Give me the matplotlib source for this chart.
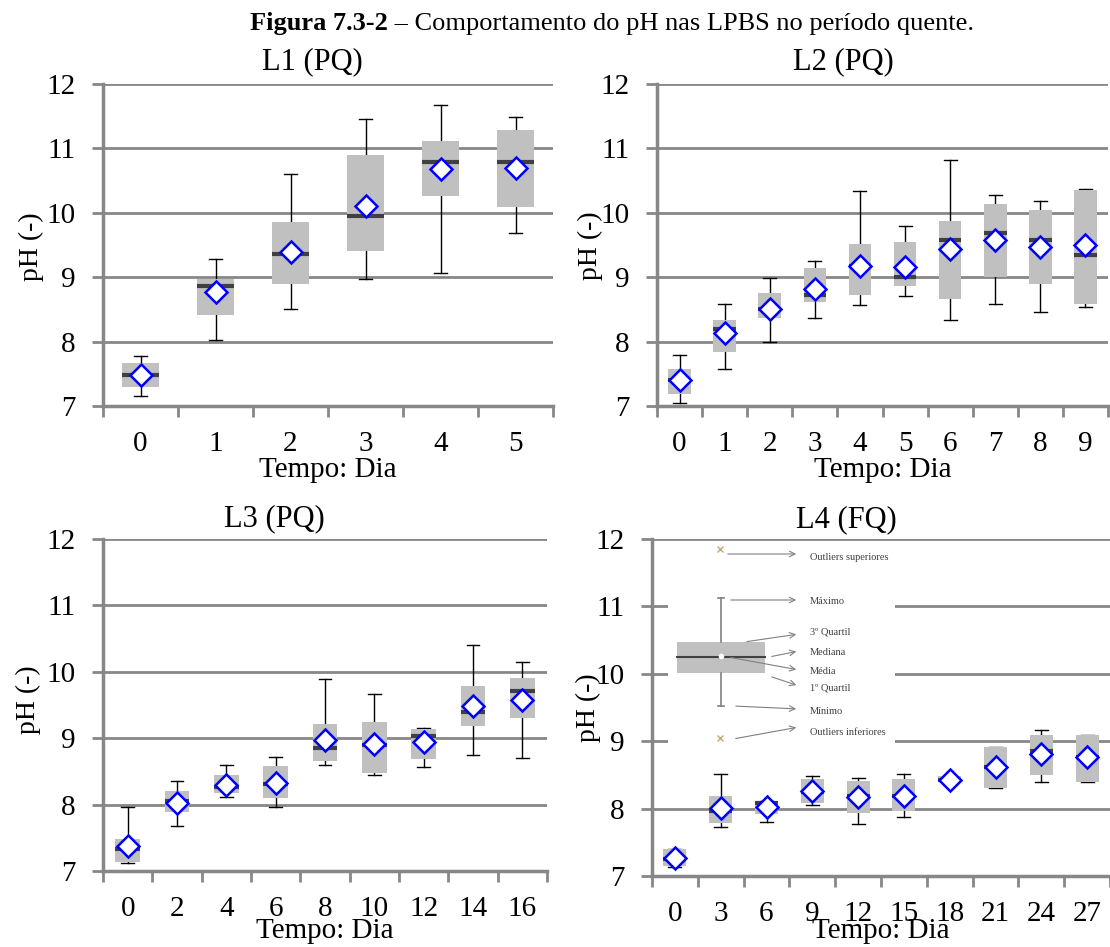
import matplotlib
matplotlib.use("Agg")
import matplotlib.pyplot as plt
import numpy as np

plt.rcParams['font.family'] = ['Liberation Serif', 'DejaVu Serif']

W, H = 1110, 947

# ---- data ----
# L1 (PQ)
l1_days = ['0', '1', '2', '3', '4', '5']
l1_min = [7.16, 8.02, 8.50, 8.97, 9.06, 9.68]
l1_q1 = [7.30, 8.42, 8.90, 9.40, 10.26, 10.09]
l1_med = [7.48, 8.86, 9.36, 9.95, 10.79, 10.79]
l1_q3 = [7.67, 8.97, 9.85, 10.89, 11.12, 11.29]
l1_max = [7.77, 9.29, 10.61, 11.46, 11.67, 11.48]
l1_mean = [7.48, 8.77, 9.39, 10.11, 10.68, 10.69]

# L2 (PQ)
l2_days = ['0', '1', '2', '3', '4', '5', '6', '7', '8', '9']
l2_min = [7.05, 7.57, 8.00, 8.37, 8.57, 8.71, 8.33, 8.58, 8.46, 8.53]
l2_q1 = [7.18, 7.84, 8.36, 8.61, 8.72, 8.86, 8.66, 9.00, 8.89, 8.59]
l2_med = [7.40, 8.19, 8.50, 8.73, 9.17, 9.00, 9.58, 9.69, 9.58, 9.34]
l2_q3 = [7.57, 8.33, 8.75, 9.14, 9.52, 9.55, 9.88, 10.13, 10.05, 10.36]
l2_max = [7.79, 8.58, 8.99, 9.25, 10.34, 9.79, 10.82, 10.28, 10.18, 10.37]
l2_mean = [7.40, 8.13, 8.51, 8.82, 9.17, 9.16, 9.44, 9.57, 9.47, 9.50]

# L3 (PQ)
l3_days = ['0', '2', '4', '6', '8', '10', '12', '14', '16']
l3_min = [7.12, 7.68, 8.11, 7.96, 8.60, 8.45, 8.56, 8.75, 8.70]
l3_q1 = [7.14, 7.89, 8.17, 8.10, 8.65, 8.48, 8.69, 9.18, 9.30]
l3_med = [7.33, 8.05, 8.26, 8.31, 8.85, 8.90, 9.04, 9.40, 9.71]
l3_q3 = [7.48, 8.20, 8.44, 8.58, 9.21, 9.25, 9.14, 9.79, 9.91]
l3_max = [7.96, 8.35, 8.60, 8.72, 9.89, 9.66, 9.15, 10.41, 10.15]
l3_mean = [7.37, 8.03, 8.30, 8.33, 8.98, 8.92, 8.94, 9.48, 9.58]

# L4 (FQ)
l4_days = ['0', '3', '6', '9', '12', '15', '18', '21', '24', '27']
l4_min = [7.13, 7.72, 7.80, 8.06, 7.77, 7.88, 8.38, 8.30, 8.39, 8.40]
l4_q1 = [7.15, 7.79, 7.92, 8.08, 7.94, 7.97, 8.40, 8.30, 8.50, 8.40]
l4_med = [7.25, 7.97, 8.09, 8.25, 8.18, 8.19, 8.43, 8.62, 8.85, 8.76]
l4_q3 = [7.40, 8.18, 8.10, 8.44, 8.41, 8.44, 8.48, 8.91, 9.09, 9.09]
l4_max = [7.40, 8.52, 8.11, 8.48, 8.46, 8.51, 8.48, 8.92, 9.17, 9.09]
l4_mean = [7.26, 8.01, 8.03, 8.26, 8.17, 8.19, 8.43, 8.62, 8.81, 8.76]

legend_labels = ['Outliers superiores', 'Máximo', '3º Quartil', 'Mediana',
                 'Média', '1º Quartil', 'Mínimo', 'Outliers inferiores']

GRID = '#878787'
BOX = '#C0C0C0'


def px_axes(left, right, top, bottom):
    return fig.add_axes([left / W, 1 - bottom / H, (right - left) / W, (bottom - top) / H])


def draw_panel(ax, days, lo, q1, med, q3, hi, mean, capw):
    stats = []
    for i in range(len(days)):
        stats.append(dict(whislo=lo[i], q1=q1[i], med=med[i], q3=q3[i],
                          whishi=hi[i], mean=mean[i], fliers=[]))
    pos = np.arange(len(days))
    ax.bxp(stats, positions=pos, widths=0.5, patch_artist=True, showmeans=True,
           capwidths=capw,
           boxprops=dict(facecolor=BOX, edgecolor='none', zorder=2),
           whiskerprops=dict(color='black', lw=1, zorder=1.5),
           capprops=dict(color='black', lw=1, zorder=1.5),
           medianprops=dict(color='#404040', lw=3, solid_capstyle='butt', zorder=3),
           meanprops=dict(marker='D', markerfacecolor='white', markeredgecolor='#0000FF',
                          markeredgewidth=1.8, markersize=11, zorder=4))
    ax.set_xlim(-0.5, len(days) - 0.5)
    ax.set_ylim(7, 12)
    ax.set_yticks([7, 8, 9, 10, 11, 12])
    ax.set_xticks(pos)
    ax.set_xticklabels(days)
    ax.set_xticks(np.arange(len(days) + 1) - 0.5, minor=True)
    ax.tick_params(axis='x', which='major', length=0, pad=18, labelsize=21)
    ax.tick_params(axis='x', which='minor', length=8, width=2, color=GRID)
    ax.tick_params(axis='y', length=8, width=2, color=GRID, pad=12, labelsize=21)
    ax.yaxis.grid(True, color=GRID, lw=2)
    ax.set_axisbelow(True)
    for s in ['top', 'right']:
        ax.spines[s].set_visible(False)
    for s in ['left', 'bottom']:
        ax.spines[s].set_color(GRID)
        ax.spines[s].set_linewidth(2.5)
    ax.patch.set_alpha(0)


fig = plt.figure(figsize=(W / 100, H / 100), dpi=100)

ax1 = px_axes(103, 553, 84, 406)
draw_panel(ax1, l1_days, l1_min, l1_q1, l1_med, l1_q3, l1_max, l1_mean, 0.17)
ax2 = px_axes(657, 1108, 84, 406)
draw_panel(ax2, l2_days, l2_min, l2_q1, l2_med, l2_q3, l2_max, l2_mean, 0.29)
ax3 = px_axes(103, 547, 539, 871)
draw_panel(ax3, l3_days, l3_min, l3_q1, l3_med, l3_q3, l3_max, l3_mean, 0.26)
ax4 = px_axes(652, 1110, 539, 876)
draw_panel(ax4, l4_days, l4_min, l4_q1, l4_med, l4_q3, l4_max, l4_mean, 0.28)

# panel titles, axis labels
for (x, y, t) in [(312, 69, 'L1 (PQ)'), (843, 69, 'L2 (PQ)'),
                  (274, 526, 'L3 (PQ)'), (846, 527, 'L4 (FQ)')]:
    fig.text(x / W, 1 - y / H, t, ha='center', va='baseline', fontsize=22)
for (x, y) in [(328, 477), (883, 477), (325, 938), (881, 938)]:
    fig.text(x / W, 1 - y / H, 'Tempo: Dia', ha='center', va='baseline', fontsize=21)
for (x, y) in [(31, 247), (590, 246), (28, 700), (588, 708)]:
    fig.text(x / W, 1 - y / H, 'pH (-)', ha='center', va='center', rotation=90, fontsize=20)

# figure caption
fig.text(388 / W, 1 - 30 / H, 'Figura 7.3-2', ha='right', va='baseline',
         fontsize=19, fontweight='bold')
fig.text(388 / W, 1 - 30 / H, ' – Comportamento do pH nas LPBS no período quente.',
         ha='left', va='baseline', fontsize=19)

# explanatory box-plot legend inside L4
lg = px_axes(668, 895, 545, 752)
lg.set_xlim(668, 895)
lg.set_ylim(752, 545)
lg.set_facecolor('white')
lg.set_xticks([])
lg.set_yticks([])
for s in lg.spines.values():
    s.set_visible(False)
lg.add_patch(plt.Rectangle((677, 642), 88, 31, facecolor=BOX, edgecolor='none'))
lg.plot([721, 721], [598, 642], color='#808080', lw=1.2)
lg.plot([721, 721], [673, 706], color='#808080', lw=1.2)
lg.plot([718, 724], [598, 598], color='#808080', lw=1.2)
lg.plot([718, 724], [706, 706], color='#808080', lw=1.2)
lg.plot([677, 765], [657, 657], color='#404040', lw=1.5)
lg.plot([721], [656], 'o', color='white', ms=3)
lg.plot([720, 720], [549, 738], 'x', color='#C8A878', ms=4, mew=1)

label_y = [557, 601, 632, 652, 671, 688, 711, 732]
arrow_from = [(725, 554), (728, 600), (744, 642), (769, 657),
              (728, 657), (769, 676), (733, 706), (733, 739)]
arrow_to = [554, 600, 634, 651, 670, 686, 709, 727]
for txt, ty, (x0, y0), y1 in zip(legend_labels, label_y, arrow_from, arrow_to):
    lg.annotate('', xy=(799, y1), xytext=(x0, y0),
                arrowprops=dict(arrowstyle='->', color='#808080', lw=0.8))
    lg.text(810, ty, txt, ha='left', va='center', fontsize=7.5, color='#404040')

fig.savefig('out.png', dpi=100)
